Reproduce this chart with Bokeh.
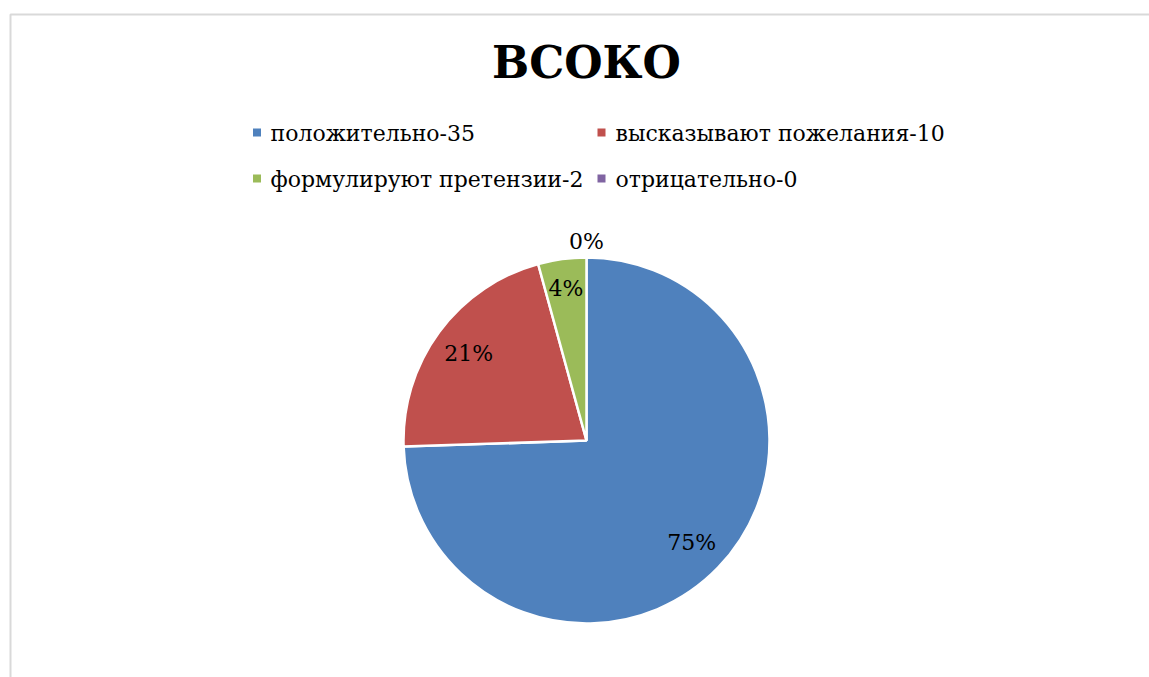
import numpy as np
from bokeh.plotting import figure
from bokeh.models import Range1d, ColumnDataSource, Label
from bokeh.embed import file_html
from bokeh.resources import INLINE

title_text = "ВСОКО"
categories = ["положительно", "высказывают пожелания", "формулируют претензии", "отрицательно"]
counts = [35, 10, 2, 0]
pct_labels = ["75%", "21%", "4%", "0%"]
colors = ["#4F81BD", "#C0504D", "#9BBB59", "#8064A2"]

W, H = 1149, 677
FONT = "DejaVu Serif"


def Y(y):
    return H - y


p = figure(width=W, height=H, x_range=Range1d(0, W), y_range=Range1d(0, H),
           output_backend="svg", toolbar_location=None,
           x_axis_type=None, y_axis_type=None, min_border=0)
p.grid.visible = False
p.outline_line_color = None

# chart frame
p.quad(left=[10], right=[W + 20], top=[Y(14)], bottom=[-20],
       fill_color=None, line_color="#d9d9d9", line_width=2)

# pie
cx, cy, R = 586, Y(440), 183
vals = np.array(counts, dtype=float)
total = vals.sum()
fr = vals / total
cum = np.concatenate([[0], np.cumsum(fr)[:-1]])
start_clock = np.pi / 2 - cum * 2 * np.pi
end_clock = start_clock - fr * 2 * np.pi
mid = (start_clock + end_clock) / 2

mask = vals > 0
src = ColumnDataSource(dict(
    start=end_clock[mask], end=start_clock[mask],
    color=[c for c, m in zip(colors, mask) if m],
))
p.wedge(x=cx, y=cy, radius=R, start_angle="start", end_angle="end",
        fill_color="color", line_color="white", line_width=2.5, source=src)

# legend markers
leg_mx = [256.5, 601, 256.5, 601]
leg_my = [132, 132, 178, 178]
leg_tx = [270, 615, 270, 615]
leg_ty = [133, 133, 179, 179]
leg_text = [f"{c}-{n}" for c, n in zip(categories, counts)]
p.rect(x=leg_mx, y=[Y(v) for v in leg_my], width=8, height=8,
       fill_color=colors, line_color=None)

# title
p.add_layout(Label(x=586, y=Y(62), text=title_text, text_font=FONT,
                   text_font_size="44px", text_font_style="bold", text_align="center",
                   text_baseline="middle", text_color="black"))

# data labels
lr = np.where(vals > 0, 0.80 * R, 1.09 * R)
lr[2] = 0.84 * R
lx = cx + lr * np.cos(mid)
ly = cy + lr * np.sin(mid)
for x_, y_, t in zip(lx, ly, pct_labels):
    p.add_layout(Label(x=float(x_), y=float(y_), text=t, text_font=FONT,
                       text_font_size="22px", text_align="center", text_baseline="middle",
                       text_color="black"))

# legend texts
for x_, y_, t in zip(leg_tx, leg_ty, leg_text):
    p.add_layout(Label(x=x_, y=Y(y_), text=t, text_font=FONT, text_font_size="22px",
                       text_baseline="middle", text_color="black"))

open("out.html", "w").write(file_html(p, INLINE))
